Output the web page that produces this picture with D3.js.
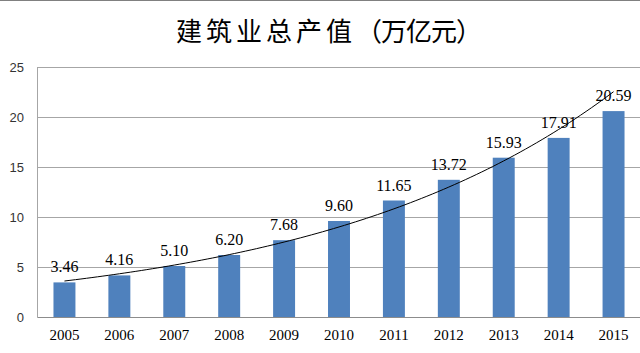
<!DOCTYPE html>
<html>
<head>
<meta charset="utf-8">
<script src="https://cdn.jsdelivr.net/npm/d3@7"></script>
<style>
  body { margin: 0; background: #fff; }
  svg { display: block; }
</style>
</head>
<body>
<div id="chart"></div>
<script>
const years = ['2005', '2006', '2007', '2008', '2009', '2010', '2011', '2012', '2013', '2014', '2015'];
const output = [3.46, 4.16, 5.10, 6.20, 7.68, 9.60, 11.65, 13.72, 15.93, 17.91, 20.59];
const yTicks = [0, 5, 10, 15, 20, 25];
const titleMain = '建筑业总产值';
const titleUnit = '（万亿元）';

const W = 640, H = 353;
const margin = {top: 67, right: -1, bottom: 36, left: 37};
const width = W - margin.left - margin.right;
const height = H - margin.top - margin.bottom;

const svg = d3.select('#chart').append('svg')
    .attr('width', W)
    .attr('height', H);

// thin border line along the top edge
svg.append('line')
    .attr('x1', 0).attr('x2', W)
    .attr('y1', 0.5).attr('y2', 0.5)
    .attr('stroke', '#808080');

const titleText = svg.append('text')
    .attr('x', 176)
    .attr('y', 41)
    .style('font-family', '"Noto Sans CJK SC", sans-serif')
    .style('font-size', '26px')
    .attr('fill', '#000');
titleText.append('tspan')
    .style('letter-spacing', '4px')
    .text(titleMain);
titleText.append('tspan')
    .style('letter-spacing', '-1px')
    .text(titleUnit);

const g = svg.append('g')
    .attr('transform', `translate(${margin.left},${margin.top})`);

const x = d3.scaleBand()
    .domain(years)
    .range([0, width])
    .paddingInner(0.6)
    .paddingOuter(0.3);

const y = d3.scaleLinear()
    .domain([0, 25])
    .range([height, 0]);

// gridlines
g.append('g')
    .selectAll('line')
    .data(yTicks.filter(d => d > 0))
    .join('line')
    .attr('x1', 0).attr('x2', width)
    .attr('y1', d => Math.round(y(d)) + 0.5)
    .attr('y2', d => Math.round(y(d)) + 0.5)
    .attr('stroke', '#a6a6a6');

// y axis
const yAxis = g.append('g')
    .call(d3.axisLeft(y).tickValues(yTicks).tickSize(0).tickPadding(13));
yAxis.select('.domain').attr('stroke', '#a6a6a6');
yAxis.selectAll('text')
    .style('font-family', '"Liberation Sans", sans-serif')
    .style('font-size', '13px')
    .attr('fill', '#333');

// bars
g.append('g')
    .selectAll('rect')
    .data(output)
    .join('rect')
    .attr('x', (d, i) => x(years[i]))
    .attr('y', d => y(d))
    .attr('width', x.bandwidth())
    .attr('height', d => height - y(d))
    .attr('fill', '#4f81bd');

// x axis
const xAxis = g.append('g')
    .attr('transform', `translate(0,${height})`)
    .call(d3.axisBottom(x).tickSize(0).tickPadding(12));
xAxis.select('.domain').attr('stroke', '#8c8c8c');
xAxis.selectAll('text')
    .style('font-family', '"Liberation Serif", serif')
    .style('font-size', '15px')
    .attr('fill', '#000');

// exponential trendline fitted to the values (least squares on ln y)
const n = output.length;
const xs = d3.range(n);
const ls = output.map(v => Math.log(v));
const mx = d3.mean(xs), ml = d3.mean(ls);
const slope = d3.sum(xs, (d, i) => (d - mx) * (ls[i] - ml)) / d3.sum(xs, d => (d - mx) * (d - mx));
const icpt = ml - slope * mx;
const step = x.step();
const x0 = x(years[0]) + x.bandwidth() / 2;
const trendPts = d3.range(0, n - 1 + 0.001, 0.1).map(t => [x0 + t * step, y(Math.exp(icpt + slope * t))]);

g.append('path')
    .attr('d', d3.line()(trendPts))
    .attr('fill', 'none')
    .attr('stroke', '#000')
    .attr('stroke-width', 1);

// data labels
g.append('g')
    .selectAll('text')
    .data(output)
    .join('text')
    .attr('x', (d, i) => x(years[i]) + x.bandwidth() / 2)
    .attr('y', d => y(d) - 10)
    .attr('text-anchor', 'middle')
    .style('font-family', '"Liberation Serif", serif')
    .style('font-size', '16px')
    .attr('fill', '#000')
    .text(d => d.toFixed(2));
</script>
</body>
</html>
